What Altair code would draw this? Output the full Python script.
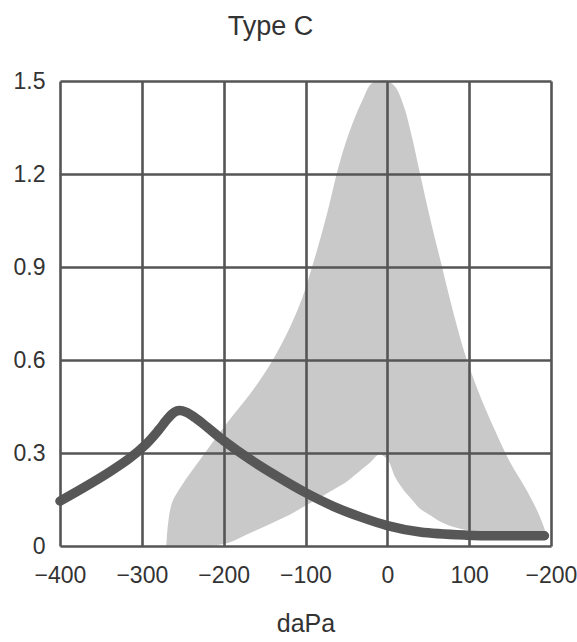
import altair as alt
import pandas as pd

# Measured tympanogram (Type C)
curve_x = [-400, -370, -340, -315, -295, -280, -268, -260, -254, -246, -235, -220, -200, -167, -133, -100, -66, -33, 0, 40, 97, 150, 192]
curve_y = [0.145, 0.19, 0.238, 0.283, 0.328, 0.372, 0.412, 0.432, 0.437, 0.432, 0.414, 0.383, 0.34, 0.278, 0.222, 0.172, 0.128, 0.094, 0.066, 0.045, 0.035, 0.033, 0.033]

# Shaded normal region (upper and lower boundaries)
region_x = [-270, -268, -263, -250, -223, -195, -165, -140, -120, -104, -92, -81, -71, -62, -51, -40, -30, -20, -10, 0, 10, 20, 30, 40, 52, 65, 80, 96, 114, 132, 150, 168, 182, 190, 195]
region_upper = [0.0, 0.07, 0.14, 0.20, 0.30, 0.40, 0.50, 0.60, 0.70, 0.80, 0.90, 1.00, 1.10, 1.20, 1.30, 1.38, 1.44, 1.49, 1.50, 1.50, 1.48, 1.42, 1.32, 1.20, 1.06, 0.92, 0.76, 0.61, 0.48, 0.37, 0.27, 0.19, 0.12, 0.07, 0.03]
region_lower = [0.0, 0.0, 0.0, 0.0, 0.0, 0.01, 0.045, 0.075, 0.10, 0.124, 0.142, 0.158, 0.174, 0.188, 0.205, 0.228, 0.25, 0.272, 0.295, 0.28, 0.22, 0.18, 0.15, 0.12, 0.10, 0.078, 0.062, 0.052, 0.044, 0.037, 0.03, 0.026, 0.023, 0.021, 0.02]

x_ticks = [-400, -300, -200, -100, 0, 100, 200]
y_ticks = [0, 0.3, 0.6, 0.9, 1.2, 1.5]

curve_df = pd.DataFrame({"p": curve_x, "c": curve_y})
region_df = pd.DataFrame({"p": region_x, "hi": region_upper, "lo": region_lower})

FONT = "Liberation Sans"
GRID = "#555555"

x_enc = alt.X(
    "p:Q",
    scale=alt.Scale(domain=[-400, 200], nice=False, zero=False),
    axis=alt.Axis(
        values=x_ticks,
        title="daPa",
        grid=True,
        gridColor=GRID,
        gridWidth=2.6,
        gridOpacity=1,
        domain=False,
        ticks=False,
        labelFlush=False,
        labelOverlap=False,
        labelPadding=18,
        labelExpr="datum.value == 200 ? '\u2212200' : datum.label",
        titlePadding=24,
        zindex=1,
    ),
)

y_axis = alt.Axis(
    values=y_ticks,
    title=None,
    grid=True,
    gridColor=GRID,
    gridWidth=2.6,
    gridOpacity=1,
    domain=False,
    ticks=False,
    labelFlush=False,
    labelPadding=15,
    labelExpr="datum.value == 0 ? '0' : format(datum.value, '.1f')",
    zindex=1,
)

area = alt.Chart(region_df).mark_area(
    color="#c9c9c9", interpolate="catmull-rom", opacity=1
).encode(
    x=x_enc,
    y=alt.Y("hi:Q", scale=alt.Scale(domain=[0, 1.5], nice=False, clamp=True), axis=y_axis),
    y2="lo:Q",
)

line = alt.Chart(curve_df).mark_line(
    color="#575757", strokeWidth=9.5, interpolate="catmull-rom", strokeCap="round", strokeJoin="round"
).encode(
    x=alt.X("p:Q"),
    y=alt.Y("c:Q"),
)

chart = (
    alt.layer(area, line)
    .properties(
        width=491,
        height=465,
        autosize="none",
        padding={"left": 60, "top": 81, "right": 26, "bottom": 96},
        title=alt.TitleParams(
            "Type C",
            anchor="middle",
            frame="group",
            dx=-35,
            offset=8,
            baseline="alphabetic",
            font=FONT,
            fontSize=27,
            fontWeight="normal",
            color="#333333",
        ),
    )
    .configure_view(stroke=None)
    .configure_axis(
        labelFont=FONT,
        labelFontSize=23,
        labelColor="#333333",
        titleFont=FONT,
        titleFontSize=25,
        titleFontWeight="normal",
        titleColor="#333333",
    )
)

chart.save("out.html", embed_options={"renderer": "svg", "actions": False})
